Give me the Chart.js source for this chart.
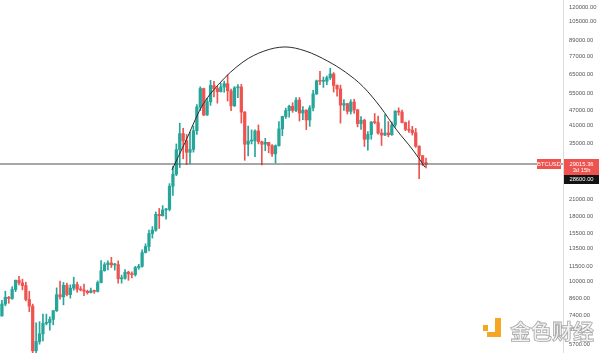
<!DOCTYPE html>
<html>
<head>
<meta charset="utf-8">
<script src="https://cdn.jsdelivr.net/npm/chart.js@4.4.1/dist/chart.umd.min.js"></script>
<style>
  html, body { margin: 0; padding: 0; background: #fff; }
  #wrap { width: 600px; height: 353px; }
</style>
</head>
<body>
<div id="wrap"><canvas id="chart" width="600" height="353"></canvas></div>
<script>
// BTCUSD weekly candles, week of 2019-12-30 up to week of 2022-05-23 (index = week number)
const symbol = 'BTCUSD';
const open = [
  7200, 7350, 8180, 8700, 8600, 9330, 10150, 9910, 9670, 8530,
  8030, 5360, 5830, 6250, 6870, 6910, 7120, 7700, 8900, 8730,
  9700, 8910, 9450, 9760, 9350, 9300, 9180, 9070, 9240, 9170,
  9930, 11060, 11680, 11860, 11650, 11690, 10280, 10330, 10920, 10750,
  10670, 11380, 11510, 13030, 13760, 15480, 15960, 18410, 18180, 19150,
  19270, 23740, 26460, 33000, 38200, 35800, 32250, 33100, 39200, 48600,
  57400, 45200, 50950, 59000, 57400, 55800, 58200, 60000, 56200, 49100,
  57800, 58200, 46400, 34700, 35700, 35800, 39100, 35500, 34700, 35300,
  34250, 31800, 34250, 39850, 44600, 47050, 48900, 47100, 51700, 46000,
  47200, 43200, 48200, 54700, 61500, 61300, 61300, 63300, 65500, 59000,
  57200, 49400, 50100, 46700, 50800, 47300, 41800, 43100, 36300, 37900,
  42400, 42200, 38400, 37700, 38400, 37800, 41300, 46800, 46400, 42200,
  39700, 39400, 38500, 34100, 31300, 29400
];
const high = [
  7500, 8460, 9190, 8770, 9570, 10160, 10500, 10250, 9960, 9190,
  8180, 6900, 6980, 7470, 7470, 7290, 7730, 9470, 10070, 9950,
  9880, 9740, 10430, 9980, 9590, 9800, 9280, 9460, 9280, 10090,
  12110, 11900, 12090, 12480, 11820, 12090, 10630, 11180, 11010, 10950,
  11500, 11720, 13350, 14100, 15970, 16480, 18800, 19420, 19920, 19420,
  24300, 28400, 34800, 41950, 40100, 37900, 38600, 40900, 49700, 58300,
  57600, 52600, 61800, 61200, 58500, 60200, 61400, 64900, 57100, 58400,
  59500, 59600, 46600, 40900, 39500, 39500, 41300, 35700, 36600, 35300,
  34600, 34500, 42600, 44700, 48100, 49400, 50500, 52900, 52900, 48800,
  47400, 49200, 56500, 62000, 67000, 63700, 64300, 69000, 66300, 59400,
  59200, 51900, 50200, 51900, 52100, 47600, 44500, 43500, 38900, 42600,
  45800, 44800, 39800, 45400, 42600, 42400, 47000, 48200, 47200, 42400,
  42900, 40800, 40000, 34200, 31300, 30600
];
const low = [
  6850, 7330, 8050, 8240, 8540, 9150, 9730, 9300, 8420, 7640,
  3850, 4440, 5690, 5860, 6770, 6460, 6780, 7650, 8560, 8120,
  8810, 8630, 9270, 9110, 9210, 8830, 8950, 9050, 9010, 9120,
  9900, 11010, 11130, 11380, 11120, 9880, 9880, 10240, 10140, 10370,
  10530, 11200, 11410, 12980, 13220, 14850, 15800, 16200, 18120, 17620,
  19000, 21850, 26100, 28100, 30400, 28850, 29200, 32300, 37900, 47000,
  44900, 45000, 49300, 53200, 50300, 55600, 55500, 51300, 47000, 48800,
  52900, 42000, 30000, 31200, 34800, 31000, 34800, 28800, 32700, 32100,
  31100, 29300, 34100, 37500, 43800, 44300, 46300, 46600, 42800, 43300,
  39600, 40800, 46900, 54400, 59500, 58000, 59400, 62300, 55600, 53600,
  42000, 47100, 45600, 45600, 45900, 40600, 39700, 34000, 32900, 36300,
  41700, 38000, 34300, 37500, 37100, 37600, 40500, 45100, 42100, 39200,
  38600, 37700, 33700, 25400, 28600, 28000
];
const close = [
  7350, 8180, 8700, 8600, 9330, 10150, 9910, 9670, 8530, 8030,
  5360, 5830, 6250, 6870, 6910, 7120, 7700, 8900, 8730, 9700,
  8910, 9450, 9760, 9350, 9300, 9180, 9070, 9240, 9170, 9930,
  11060, 11680, 11860, 11650, 11690, 10280, 10330, 10920, 10750, 10670,
  11380, 11510, 13030, 13760, 15480, 15960, 18410, 18180, 19150, 19270,
  23740, 26460, 33000, 38200, 35800, 32250, 33100, 39200, 48600, 57400,
  45200, 50950, 59000, 57400, 55800, 58200, 60000, 56200, 49100, 57800,
  58200, 46400, 34700, 35700, 35800, 39100, 35500, 34700, 35300, 34250,
  31800, 34250, 39850, 44600, 47050, 48900, 47100, 51700, 46000, 47200,
  43200, 48200, 54700, 61500, 61300, 61300, 63300, 65500, 59000, 57200,
  49400, 50100, 46700, 50800, 47300, 41800, 43100, 36300, 37900, 42400,
  42200, 38400, 37700, 38400, 37800, 41300, 46800, 46400, 42200, 39700,
  39400, 38500, 34100, 31300, 29400, 29015.36
];

// price axis labels
const priceTicks = [120000, 105000, 89000, 77000, 65000, 55000, 47000, 41000, 35000,
  21000, 18000, 15500, 13500, 11500, 10000, 8600, 7400, 6500, 5700];

// drawn annotations: horizontal level and the arc (week index, price)
const lastPrice = 29015.36;
const countdown = '3d 15h';
const markPrice = 28600;
const arcWeek  = [50.7, 54.5, 59.4, 64.2, 71.5, 77.6, 83.8, 89.9, 96.3, 101.5, 106.6, 111.6, 116.4, 121.2, 124.7];
const arcPrice = [27500, 35100, 48700, 59300, 73000, 80500, 83600, 80500, 73500, 66500, 58400, 48700, 39500, 32900, 28200];

const xMin = 0.44, xMax = 165.06;
const yMin = 5256, yMax = 127800;

const UP = '#26a69a', DOWN = '#ef5350';
const candleColors = close.map((c, i) => c >= open[i] ? UP : DOWN);

const wickData = high.map((h, i) => ({ x: i, y: [low[i], h] }));
const bodyData = open.map((o, i) => ({ x: i, y: [Math.min(o, close[i]), Math.max(o, close[i])] }));
const levelData = [{ x: xMin, y: lastPrice }, { x: xMax, y: lastPrice }];
const arcData = arcWeek.map((w, i) => ({ x: w, y: arcPrice[i] }));

// labels on the right + watermark
const overlay = {
    id: 'overlay',
    afterDraw(chart) {
        const ctx = chart.ctx;
        const area = chart.chartArea;
        const py = Math.round(chart.scales.y.getPixelForValue(lastPrice));
        ctx.save();
        ctx.font = '5.8px "Liberation Sans", Arial, sans-serif';
        ctx.textBaseline = 'middle';
        ctx.textAlign = 'center';

        // symbol tag
        ctx.fillStyle = DOWN;
        ctx.fillRect(area.right - 26, py - 5, 24, 10);
        ctx.fillStyle = '#fff';
        ctx.fillText(symbol, area.right - 14, py + 0.5);

        // last price + countdown
        ctx.fillStyle = DOWN;
        ctx.fillRect(area.right + 1, py - 5, 35, 16);
        ctx.fillStyle = '#fff';
        ctx.fillText(lastPrice.toFixed(2), area.right + 18.5, py);
        ctx.fillText(countdown, area.right + 18.5, py + 6.5);

        // black price tag
        ctx.fillStyle = '#131313';
        ctx.fillRect(area.right + 1, py + 11, 35, 9);
        ctx.fillStyle = '#fff';
        ctx.fillText(markPrice.toFixed(2), area.right + 18.5, py + 15.5);

        // watermark
        ctx.fillStyle = '#f5a623';
        ctx.fillRect(483, 325, 5, 6);
        ctx.fillRect(495, 318, 6, 19);
        ctx.fillRect(487, 332, 14, 5);
        ctx.font = 'bold 21px "Noto Sans CJK SC", sans-serif';
        ctx.textAlign = 'left';
        ctx.textBaseline = 'alphabetic';
        ctx.fillStyle = 'rgba(240,240,240,0.85)';
        ctx.strokeStyle = 'rgba(160,160,160,0.9)';
        ctx.lineWidth = 0.8;
        ctx.fillText('金色财经', 510, 339);
        ctx.strokeText('金色财经', 510, 339);
        ctx.restore();
    }
};

const ctx = document.getElementById('chart').getContext('2d');
new Chart(ctx, {
    type: 'bar',
    data: {
        datasets: [
            {
                type: 'line',
                data: arcData,
                borderColor: '#2b2b2b',
                borderWidth: 1,
                pointRadius: 0,
                cubicInterpolationMode: 'monotone',
                fill: false,
                order: 0
            },
            {
                type: 'line',
                data: levelData,
                borderColor: '#505050',
                borderWidth: 1,
                pointRadius: 0,
                fill: false,
                order: 1
            },
            {
                data: wickData,
                backgroundColor: candleColors,
                barThickness: 1,
                borderWidth: 0,
                grouped: false,
                order: 3
            },
            {
                data: bodyData,
                backgroundColor: candleColors,
                barThickness: 2.6,
                minBarLength: 1,
                borderWidth: 0,
                grouped: false,
                order: 2
            }
        ]
    },
    options: {
        responsive: false,
        animation: false,
        layout: { padding: 0 },
        plugins: {
            legend: { display: false },
            tooltip: { enabled: false }
        },
        scales: {
            x: {
                type: 'linear',
                min: xMin,
                max: xMax,
                display: false,
                offset: false
            },
            y: {
                type: 'logarithmic',
                position: 'right',
                min: yMin,
                max: yMax,
                grid: { display: false, drawTicks: false },
                border: { display: true, color: '#dcdcdc', width: 1 },
                ticks: {
                    autoSkip: false,
                    padding: 6,
                    color: '#555',
                    font: { size: 5.8, family: '"Liberation Sans", Arial, sans-serif' },
                    callback: v => Number(v).toFixed(2)
                },
                afterBuildTicks: scale => {
                    scale.ticks = priceTicks.map(v => ({ value: v }));
                },
                afterFit: scale => {
                    scale.width = 37;
                    scale.paddingTop = 0;
                    scale.paddingBottom = 0;
                }
            }
        }
    },
    plugins: [overlay]
});
</script>
</body>
</html>
